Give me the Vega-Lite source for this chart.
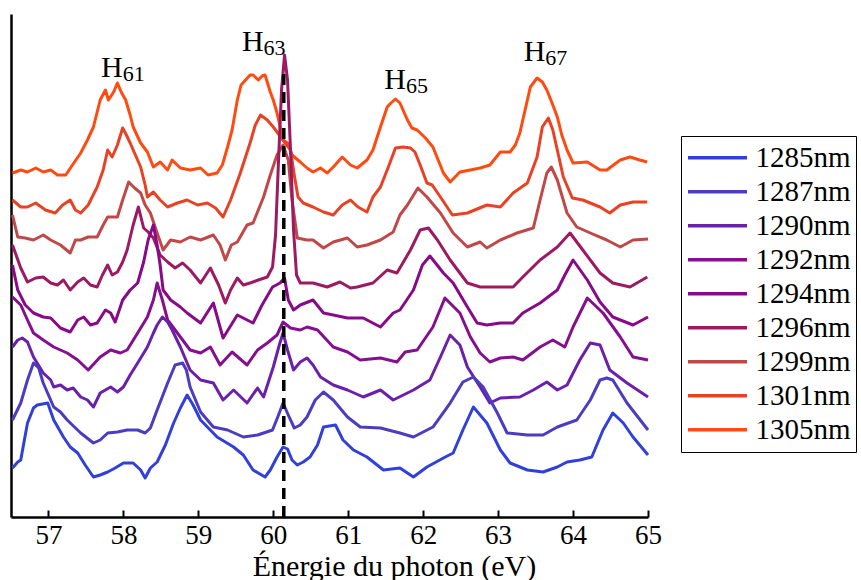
{
  "$schema": "https://vega.github.io/schema/vega-lite/v6.json",
  "width": 637,
  "height": 503,
  "autosize": {"type": "none"},
  "padding": {"left": 11, "top": 14, "right": 213, "bottom": 63},
  "background": "white",
  "config": {
    "view": {"stroke": null},
    "font": "Liberation Serif"
  },
  "layer": [
    {
      "data": {"values": [
{"w":"1305nm","E":56.52,"I":344},{"w":"1305nm","E":56.63,"I":347},{"w":"1305nm","E":56.72,"I":345},{"w":"1305nm","E":56.83,"I":349},{"w":"1305nm","E":56.93,"I":345},{"w":"1305nm","E":57.03,"I":347},{"w":"1305nm","E":57.12,"I":342},{"w":"1305nm","E":57.23,"I":342},{"w":"1305nm","E":57.32,"I":352},{"w":"1305nm","E":57.43,"I":364},{"w":"1305nm","E":57.52,"I":377},{"w":"1305nm","E":57.60,"I":390},{"w":"1305nm","E":57.69,"I":417},{"w":"1305nm","E":57.76,"I":427},{"w":"1305nm","E":57.80,"I":417},{"w":"1305nm","E":57.87,"I":425},{"w":"1305nm","E":57.92,"I":434},{"w":"1305nm","E":57.97,"I":425},{"w":"1305nm","E":58.03,"I":417},{"w":"1305nm","E":58.09,"I":402},{"w":"1305nm","E":58.13,"I":390},{"w":"1305nm","E":58.23,"I":374},{"w":"1305nm","E":58.32,"I":365},{"w":"1305nm","E":58.40,"I":350},{"w":"1305nm","E":58.49,"I":355},{"w":"1305nm","E":58.59,"I":347},{"w":"1305nm","E":58.65,"I":357},{"w":"1305nm","E":58.76,"I":349},{"w":"1305nm","E":58.89,"I":347},{"w":"1305nm","E":59.03,"I":349},{"w":"1305nm","E":59.13,"I":342},{"w":"1305nm","E":59.25,"I":344},{"w":"1305nm","E":59.32,"I":352},{"w":"1305nm","E":59.39,"I":370},{"w":"1305nm","E":59.45,"I":387},{"w":"1305nm","E":59.52,"I":417},{"w":"1305nm","E":59.57,"I":432},{"w":"1305nm","E":59.63,"I":437},{"w":"1305nm","E":59.69,"I":442},{"w":"1305nm","E":59.73,"I":442},{"w":"1305nm","E":59.80,"I":437},{"w":"1305nm","E":59.85,"I":441},{"w":"1305nm","E":59.89,"I":442},{"w":"1305nm","E":59.96,"I":425},{"w":"1305nm","E":60.00,"I":417},{"w":"1305nm","E":60.05,"I":404},{"w":"1305nm","E":60.13,"I":377},{"w":"1305nm","E":60.19,"I":374},{"w":"1305nm","E":60.25,"I":362},{"w":"1305nm","E":60.36,"I":355},{"w":"1305nm","E":60.45,"I":349},{"w":"1305nm","E":60.53,"I":345},{"w":"1305nm","E":60.63,"I":349},{"w":"1305nm","E":60.72,"I":344},{"w":"1305nm","E":60.80,"I":350},{"w":"1305nm","E":60.92,"I":360},{"w":"1305nm","E":61.03,"I":352},{"w":"1305nm","E":61.12,"I":349},{"w":"1305nm","E":61.25,"I":357},{"w":"1305nm","E":61.33,"I":367},{"w":"1305nm","E":61.43,"I":390},{"w":"1305nm","E":61.52,"I":410},{"w":"1305nm","E":61.57,"I":414},{"w":"1305nm","E":61.63,"I":418},{"w":"1305nm","E":61.69,"I":414},{"w":"1305nm","E":61.79,"I":397},{"w":"1305nm","E":61.85,"I":389},{"w":"1305nm","E":61.92,"I":387},{"w":"1305nm","E":62.03,"I":379},{"w":"1305nm","E":62.13,"I":370},{"w":"1305nm","E":62.20,"I":357},{"w":"1305nm","E":62.27,"I":344},{"w":"1305nm","E":62.36,"I":335},{"w":"1305nm","E":62.49,"I":345},{"w":"1305nm","E":62.63,"I":347},{"w":"1305nm","E":62.76,"I":349},{"w":"1305nm","E":62.89,"I":352},{"w":"1305nm","E":63.03,"I":365},{"w":"1305nm","E":63.16,"I":365},{"w":"1305nm","E":63.23,"I":372},{"w":"1305nm","E":63.29,"I":384},{"w":"1305nm","E":63.36,"I":407},{"w":"1305nm","E":63.43,"I":430},{"w":"1305nm","E":63.52,"I":439},{"w":"1305nm","E":63.59,"I":435},{"w":"1305nm","E":63.65,"I":427},{"w":"1305nm","E":63.72,"I":414},{"w":"1305nm","E":63.79,"I":400},{"w":"1305nm","E":63.85,"I":382},{"w":"1305nm","E":63.92,"I":367},{"w":"1305nm","E":64.00,"I":354},{"w":"1305nm","E":64.19,"I":355},{"w":"1305nm","E":64.36,"I":347},{"w":"1305nm","E":64.45,"I":347},{"w":"1305nm","E":64.63,"I":357},{"w":"1305nm","E":64.76,"I":360},{"w":"1305nm","E":64.89,"I":357},{"w":"1305nm","E":64.99,"I":355},
{"w":"1301nm","E":56.52,"I":317},{"w":"1301nm","E":56.63,"I":310},{"w":"1301nm","E":56.72,"I":310},{"w":"1301nm","E":56.83,"I":314},{"w":"1301nm","E":56.96,"I":307},{"w":"1301nm","E":57.09,"I":304},{"w":"1301nm","E":57.19,"I":312},{"w":"1301nm","E":57.29,"I":317},{"w":"1301nm","E":57.36,"I":307},{"w":"1301nm","E":57.43,"I":304},{"w":"1301nm","E":57.53,"I":312},{"w":"1301nm","E":57.65,"I":330},{"w":"1301nm","E":57.73,"I":347},{"w":"1301nm","E":57.79,"I":367},{"w":"1301nm","E":57.85,"I":360},{"w":"1301nm","E":57.92,"I":372},{"w":"1301nm","E":57.99,"I":389},{"w":"1301nm","E":58.04,"I":382},{"w":"1301nm","E":58.09,"I":374},{"w":"1301nm","E":58.16,"I":362},{"w":"1301nm","E":58.23,"I":350},{"w":"1301nm","E":58.29,"I":332},{"w":"1301nm","E":58.32,"I":320},{"w":"1301nm","E":58.40,"I":325},{"w":"1301nm","E":58.49,"I":317},{"w":"1301nm","E":58.59,"I":310},{"w":"1301nm","E":58.72,"I":314},{"w":"1301nm","E":58.85,"I":317},{"w":"1301nm","E":58.99,"I":312},{"w":"1301nm","E":59.12,"I":314},{"w":"1301nm","E":59.23,"I":309},{"w":"1301nm","E":59.33,"I":300},{"w":"1301nm","E":59.43,"I":317},{"w":"1301nm","E":59.56,"I":344},{"w":"1301nm","E":59.69,"I":374},{"w":"1301nm","E":59.76,"I":392},{"w":"1301nm","E":59.83,"I":402},{"w":"1301nm","E":59.92,"I":397},{"w":"1301nm","E":60.00,"I":390},{"w":"1301nm","E":60.13,"I":377},{"w":"1301nm","E":60.23,"I":367},{"w":"1301nm","E":60.28,"I":342},{"w":"1301nm","E":60.33,"I":320},{"w":"1301nm","E":60.40,"I":314},{"w":"1301nm","E":60.53,"I":310},{"w":"1301nm","E":60.67,"I":305},{"w":"1301nm","E":60.80,"I":302},{"w":"1301nm","E":60.92,"I":312},{"w":"1301nm","E":61.03,"I":317},{"w":"1301nm","E":61.13,"I":310},{"w":"1301nm","E":61.25,"I":305},{"w":"1301nm","E":61.33,"I":320},{"w":"1301nm","E":61.43,"I":330},{"w":"1301nm","E":61.53,"I":349},{"w":"1301nm","E":61.63,"I":369},{"w":"1301nm","E":61.73,"I":370},{"w":"1301nm","E":61.83,"I":369},{"w":"1301nm","E":61.89,"I":365},{"w":"1301nm","E":61.96,"I":352},{"w":"1301nm","E":62.05,"I":334},{"w":"1301nm","E":62.12,"I":332},{"w":"1301nm","E":62.23,"I":320},{"w":"1301nm","E":62.39,"I":302},{"w":"1301nm","E":62.59,"I":304},{"w":"1301nm","E":62.85,"I":312},{"w":"1301nm","E":63.03,"I":310},{"w":"1301nm","E":63.20,"I":324},{"w":"1301nm","E":63.39,"I":334},{"w":"1301nm","E":63.52,"I":360},{"w":"1301nm","E":63.59,"I":390},{"w":"1301nm","E":63.67,"I":399},{"w":"1301nm","E":63.73,"I":387},{"w":"1301nm","E":63.87,"I":340},{"w":"1301nm","E":63.99,"I":319},{"w":"1301nm","E":64.13,"I":317},{"w":"1301nm","E":64.36,"I":310},{"w":"1301nm","E":64.49,"I":304},{"w":"1301nm","E":64.63,"I":312},{"w":"1301nm","E":64.80,"I":315},{"w":"1301nm","E":64.99,"I":315},
{"w":"1299nm","E":56.52,"I":302},{"w":"1299nm","E":56.59,"I":280},{"w":"1299nm","E":56.69,"I":279},{"w":"1299nm","E":56.80,"I":277},{"w":"1299nm","E":56.93,"I":282},{"w":"1299nm","E":57.03,"I":277},{"w":"1299nm","E":57.16,"I":272},{"w":"1299nm","E":57.29,"I":264},{"w":"1299nm","E":57.36,"I":277},{"w":"1299nm","E":57.43,"I":277},{"w":"1299nm","E":57.53,"I":280},{"w":"1299nm","E":57.65,"I":280},{"w":"1299nm","E":57.73,"I":292},{"w":"1299nm","E":57.79,"I":300},{"w":"1299nm","E":57.92,"I":300},{"w":"1299nm","E":57.99,"I":317},{"w":"1299nm","E":58.07,"I":335},{"w":"1299nm","E":58.15,"I":329},{"w":"1299nm","E":58.23,"I":324},{"w":"1299nm","E":58.29,"I":312},{"w":"1299nm","E":58.36,"I":304},{"w":"1299nm","E":58.45,"I":284},{"w":"1299nm","E":58.53,"I":267},{"w":"1299nm","E":58.63,"I":277},{"w":"1299nm","E":58.76,"I":275},{"w":"1299nm","E":58.89,"I":280},{"w":"1299nm","E":59.03,"I":277},{"w":"1299nm","E":59.20,"I":282},{"w":"1299nm","E":59.29,"I":272},{"w":"1299nm","E":59.36,"I":257},{"w":"1299nm","E":59.44,"I":272},{"w":"1299nm","E":59.52,"I":275},{"w":"1299nm","E":59.65,"I":292},{"w":"1299nm","E":59.73,"I":294},{"w":"1299nm","E":59.87,"I":320},{"w":"1299nm","E":59.96,"I":342},{"w":"1299nm","E":60.05,"I":362},{"w":"1299nm","E":60.13,"I":372},{"w":"1299nm","E":60.20,"I":357},{"w":"1299nm","E":60.25,"I":317},{"w":"1299nm","E":60.32,"I":279},{"w":"1299nm","E":60.45,"I":277},{"w":"1299nm","E":60.53,"I":277},{"w":"1299nm","E":60.67,"I":269},{"w":"1299nm","E":60.80,"I":275},{"w":"1299nm","E":60.99,"I":279},{"w":"1299nm","E":61.12,"I":270},{"w":"1299nm","E":61.25,"I":272},{"w":"1299nm","E":61.43,"I":277},{"w":"1299nm","E":61.60,"I":285},{"w":"1299nm","E":61.69,"I":302},{"w":"1299nm","E":61.79,"I":312},{"w":"1299nm","E":61.93,"I":329},{"w":"1299nm","E":62.05,"I":320},{"w":"1299nm","E":62.23,"I":304},{"w":"1299nm","E":62.40,"I":284},{"w":"1299nm","E":62.59,"I":270},{"w":"1299nm","E":62.76,"I":275},{"w":"1299nm","E":62.85,"I":269},{"w":"1299nm","E":63.03,"I":277},{"w":"1299nm","E":63.25,"I":284},{"w":"1299nm","E":63.47,"I":289},{"w":"1299nm","E":63.56,"I":317},{"w":"1299nm","E":63.65,"I":344},{"w":"1299nm","E":63.71,"I":350},{"w":"1299nm","E":63.79,"I":337},{"w":"1299nm","E":63.92,"I":304},{"w":"1299nm","E":64.05,"I":290},{"w":"1299nm","E":64.23,"I":284},{"w":"1299nm","E":64.45,"I":277},{"w":"1299nm","E":64.63,"I":270},{"w":"1299nm","E":64.80,"I":277},{"w":"1299nm","E":65.00,"I":278},
{"w":"1296nm","E":56.52,"I":272},{"w":"1296nm","E":56.63,"I":249},{"w":"1296nm","E":56.72,"I":235},{"w":"1296nm","E":56.83,"I":239},{"w":"1296nm","E":56.93,"I":240},{"w":"1296nm","E":57.03,"I":234},{"w":"1296nm","E":57.12,"I":232},{"w":"1296nm","E":57.20,"I":237},{"w":"1296nm","E":57.29,"I":227},{"w":"1296nm","E":57.39,"I":235},{"w":"1296nm","E":57.47,"I":239},{"w":"1296nm","E":57.56,"I":232},{"w":"1296nm","E":57.65,"I":230},{"w":"1296nm","E":57.72,"I":242},{"w":"1296nm","E":57.79,"I":252},{"w":"1296nm","E":57.85,"I":242},{"w":"1296nm","E":57.92,"I":245},{"w":"1296nm","E":57.99,"I":255},{"w":"1296nm","E":58.05,"I":267},{"w":"1296nm","E":58.13,"I":292},{"w":"1296nm","E":58.20,"I":310},{"w":"1296nm","E":58.27,"I":289},{"w":"1296nm","E":58.33,"I":285},{"w":"1296nm","E":58.40,"I":279},{"w":"1296nm","E":58.49,"I":262},{"w":"1296nm","E":58.59,"I":255},{"w":"1296nm","E":58.69,"I":249},{"w":"1296nm","E":58.79,"I":254},{"w":"1296nm","E":58.89,"I":247},{"w":"1296nm","E":59.03,"I":234},{"w":"1296nm","E":59.16,"I":249},{"w":"1296nm","E":59.27,"I":232},{"w":"1296nm","E":59.36,"I":214},{"w":"1296nm","E":59.43,"I":227},{"w":"1296nm","E":59.52,"I":239},{"w":"1296nm","E":59.60,"I":232},{"w":"1296nm","E":59.69,"I":234},{"w":"1296nm","E":59.80,"I":237},{"w":"1296nm","E":59.92,"I":240},{"w":"1296nm","E":59.99,"I":250},{"w":"1296nm","E":60.03,"I":282},{"w":"1296nm","E":60.07,"I":357},{"w":"1296nm","E":60.11,"I":427},{"w":"1296nm","E":60.15,"I":462},{"w":"1296nm","E":60.19,"I":437},{"w":"1296nm","E":60.23,"I":367},{"w":"1296nm","E":60.27,"I":287},{"w":"1296nm","E":60.31,"I":242},{"w":"1296nm","E":60.36,"I":234},{"w":"1296nm","E":60.53,"I":234},{"w":"1296nm","E":60.72,"I":230},{"w":"1296nm","E":60.89,"I":235},{"w":"1296nm","E":61.03,"I":229},{"w":"1296nm","E":61.12,"I":230},{"w":"1296nm","E":61.33,"I":234},{"w":"1296nm","E":61.52,"I":247},{"w":"1296nm","E":61.65,"I":244},{"w":"1296nm","E":61.83,"I":267},{"w":"1296nm","E":61.96,"I":287},{"w":"1296nm","E":62.07,"I":289},{"w":"1296nm","E":62.19,"I":277},{"w":"1296nm","E":62.36,"I":257},{"w":"1296nm","E":62.59,"I":234},{"w":"1296nm","E":62.76,"I":230},{"w":"1296nm","E":62.99,"I":230},{"w":"1296nm","E":63.20,"I":230},{"w":"1296nm","E":63.33,"I":240},{"w":"1296nm","E":63.56,"I":257},{"w":"1296nm","E":63.79,"I":270},{"w":"1296nm","E":63.96,"I":284},{"w":"1296nm","E":64.13,"I":267},{"w":"1296nm","E":64.36,"I":244},{"w":"1296nm","E":64.53,"I":234},{"w":"1296nm","E":64.76,"I":230},{"w":"1296nm","E":64.99,"I":240},
{"w":"1294nm","E":56.52,"I":252},{"w":"1294nm","E":56.59,"I":227},{"w":"1294nm","E":56.69,"I":212},{"w":"1294nm","E":56.80,"I":204},{"w":"1294nm","E":56.93,"I":200},{"w":"1294nm","E":57.03,"I":199},{"w":"1294nm","E":57.16,"I":189},{"w":"1294nm","E":57.29,"I":185},{"w":"1294nm","E":57.39,"I":197},{"w":"1294nm","E":57.47,"I":200},{"w":"1294nm","E":57.56,"I":192},{"w":"1294nm","E":57.65,"I":194},{"w":"1294nm","E":57.76,"I":207},{"w":"1294nm","E":57.83,"I":204},{"w":"1294nm","E":57.89,"I":195},{"w":"1294nm","E":57.99,"I":217},{"w":"1294nm","E":58.09,"I":227},{"w":"1294nm","E":58.19,"I":234},{"w":"1294nm","E":58.27,"I":255},{"w":"1294nm","E":58.33,"I":277},{"w":"1294nm","E":58.40,"I":292},{"w":"1294nm","E":58.45,"I":272},{"w":"1294nm","E":58.49,"I":252},{"w":"1294nm","E":58.53,"I":227},{"w":"1294nm","E":58.63,"I":217},{"w":"1294nm","E":58.76,"I":210},{"w":"1294nm","E":58.85,"I":204},{"w":"1294nm","E":59.03,"I":194},{"w":"1294nm","E":59.20,"I":214},{"w":"1294nm","E":59.33,"I":179},{"w":"1294nm","E":59.52,"I":202},{"w":"1294nm","E":59.73,"I":194},{"w":"1294nm","E":59.85,"I":212},{"w":"1294nm","E":59.99,"I":230},{"w":"1294nm","E":60.09,"I":234},{"w":"1294nm","E":60.15,"I":239},{"w":"1294nm","E":60.20,"I":217},{"w":"1294nm","E":60.27,"I":207},{"w":"1294nm","E":60.36,"I":212},{"w":"1294nm","E":60.53,"I":217},{"w":"1294nm","E":60.67,"I":204},{"w":"1294nm","E":60.80,"I":202},{"w":"1294nm","E":60.99,"I":199},{"w":"1294nm","E":61.20,"I":199},{"w":"1294nm","E":61.43,"I":190},{"w":"1294nm","E":61.60,"I":204},{"w":"1294nm","E":61.69,"I":207},{"w":"1294nm","E":61.87,"I":227},{"w":"1294nm","E":61.99,"I":252},{"w":"1294nm","E":62.09,"I":261},{"w":"1294nm","E":62.27,"I":244},{"w":"1294nm","E":62.40,"I":234},{"w":"1294nm","E":62.59,"I":210},{"w":"1294nm","E":62.72,"I":194},{"w":"1294nm","E":62.85,"I":192},{"w":"1294nm","E":63.03,"I":194},{"w":"1294nm","E":63.20,"I":194},{"w":"1294nm","E":63.33,"I":204},{"w":"1294nm","E":63.56,"I":214},{"w":"1294nm","E":63.79,"I":227},{"w":"1294nm","E":63.89,"I":242},{"w":"1294nm","E":64.00,"I":257},{"w":"1294nm","E":64.19,"I":237},{"w":"1294nm","E":64.36,"I":215},{"w":"1294nm","E":64.53,"I":200},{"w":"1294nm","E":64.80,"I":192},{"w":"1294nm","E":65.00,"I":200},
{"w":"1292nm","E":56.52,"I":220},{"w":"1292nm","E":56.63,"I":212},{"w":"1292nm","E":56.72,"I":197},{"w":"1292nm","E":56.80,"I":184},{"w":"1292nm","E":56.93,"I":177},{"w":"1292nm","E":57.07,"I":170},{"w":"1292nm","E":57.16,"I":167},{"w":"1292nm","E":57.25,"I":164},{"w":"1292nm","E":57.39,"I":157},{"w":"1292nm","E":57.53,"I":147},{"w":"1292nm","E":57.69,"I":160},{"w":"1292nm","E":57.83,"I":167},{"w":"1292nm","E":57.96,"I":164},{"w":"1292nm","E":58.05,"I":167},{"w":"1292nm","E":58.19,"I":184},{"w":"1292nm","E":58.32,"I":200},{"w":"1292nm","E":58.40,"I":217},{"w":"1292nm","E":58.45,"I":234},{"w":"1292nm","E":58.52,"I":217},{"w":"1292nm","E":58.59,"I":197},{"w":"1292nm","E":58.72,"I":184},{"w":"1292nm","E":58.89,"I":167},{"w":"1292nm","E":59.03,"I":164},{"w":"1292nm","E":59.16,"I":170},{"w":"1292nm","E":59.29,"I":152},{"w":"1292nm","E":59.45,"I":165},{"w":"1292nm","E":59.65,"I":152},{"w":"1292nm","E":59.79,"I":167},{"w":"1292nm","E":59.92,"I":174},{"w":"1292nm","E":60.05,"I":182},{"w":"1292nm","E":60.13,"I":195},{"w":"1292nm","E":60.23,"I":189},{"w":"1292nm","E":60.36,"I":187},{"w":"1292nm","E":60.45,"I":190},{"w":"1292nm","E":60.59,"I":187},{"w":"1292nm","E":60.80,"I":170},{"w":"1292nm","E":60.99,"I":165},{"w":"1292nm","E":61.16,"I":157},{"w":"1292nm","E":61.43,"I":159},{"w":"1292nm","E":61.65,"I":155},{"w":"1292nm","E":61.76,"I":165},{"w":"1292nm","E":61.92,"I":167},{"w":"1292nm","E":62.13,"I":190},{"w":"1292nm","E":62.29,"I":219},{"w":"1292nm","E":62.49,"I":204},{"w":"1292nm","E":62.63,"I":180},{"w":"1292nm","E":62.76,"I":164},{"w":"1292nm","E":62.89,"I":155},{"w":"1292nm","E":63.03,"I":159},{"w":"1292nm","E":63.20,"I":160},{"w":"1292nm","E":63.33,"I":157},{"w":"1292nm","E":63.56,"I":170},{"w":"1292nm","E":63.73,"I":177},{"w":"1292nm","E":63.89,"I":170},{"w":"1292nm","E":64.00,"I":190},{"w":"1292nm","E":64.19,"I":219},{"w":"1292nm","E":64.40,"I":204},{"w":"1292nm","E":64.63,"I":180},{"w":"1292nm","E":64.80,"I":160},{"w":"1292nm","E":65.00,"I":157},
{"w":"1290nm","E":56.52,"I":170},{"w":"1290nm","E":56.59,"I":177},{"w":"1290nm","E":56.65,"I":179},{"w":"1290nm","E":56.72,"I":175},{"w":"1290nm","E":56.80,"I":160},{"w":"1290nm","E":56.93,"I":144},{"w":"1290nm","E":57.03,"I":137},{"w":"1290nm","E":57.07,"I":130},{"w":"1290nm","E":57.16,"I":132},{"w":"1290nm","E":57.25,"I":127},{"w":"1290nm","E":57.33,"I":129},{"w":"1290nm","E":57.43,"I":120},{"w":"1290nm","E":57.52,"I":117},{"w":"1290nm","E":57.60,"I":110},{"w":"1290nm","E":57.69,"I":124},{"w":"1290nm","E":57.83,"I":130},{"w":"1290nm","E":57.92,"I":125},{"w":"1290nm","E":58.00,"I":130},{"w":"1290nm","E":58.09,"I":142},{"w":"1290nm","E":58.19,"I":154},{"w":"1290nm","E":58.32,"I":170},{"w":"1290nm","E":58.40,"I":184},{"w":"1290nm","E":58.45,"I":192},{"w":"1290nm","E":58.52,"I":200},{"w":"1290nm","E":58.59,"I":195},{"w":"1290nm","E":58.65,"I":187},{"w":"1290nm","E":58.76,"I":170},{"w":"1290nm","E":58.89,"I":147},{"w":"1290nm","E":59.03,"I":137},{"w":"1290nm","E":59.20,"I":134},{"w":"1290nm","E":59.33,"I":117},{"w":"1290nm","E":59.47,"I":127},{"w":"1290nm","E":59.65,"I":114},{"w":"1290nm","E":59.79,"I":129},{"w":"1290nm","E":59.87,"I":120},{"w":"1290nm","E":60.00,"I":150},{"w":"1290nm","E":60.08,"I":172},{"w":"1290nm","E":60.13,"I":184},{"w":"1290nm","E":60.19,"I":167},{"w":"1290nm","E":60.27,"I":147},{"w":"1290nm","E":60.36,"I":155},{"w":"1290nm","E":60.45,"I":159},{"w":"1290nm","E":60.53,"I":152},{"w":"1290nm","E":60.63,"I":140},{"w":"1290nm","E":60.80,"I":132},{"w":"1290nm","E":60.99,"I":127},{"w":"1290nm","E":61.20,"I":120},{"w":"1290nm","E":61.43,"I":127},{"w":"1290nm","E":61.60,"I":117},{"w":"1290nm","E":61.87,"I":127},{"w":"1290nm","E":62.09,"I":137},{"w":"1290nm","E":62.23,"I":160},{"w":"1290nm","E":62.36,"I":182},{"w":"1290nm","E":62.49,"I":172},{"w":"1290nm","E":62.59,"I":150},{"w":"1290nm","E":62.76,"I":130},{"w":"1290nm","E":62.89,"I":114},{"w":"1290nm","E":63.03,"I":119},{"w":"1290nm","E":63.29,"I":120},{"w":"1290nm","E":63.47,"I":127},{"w":"1290nm","E":63.65,"I":135},{"w":"1290nm","E":63.79,"I":127},{"w":"1290nm","E":63.92,"I":132},{"w":"1290nm","E":64.09,"I":157},{"w":"1290nm","E":64.23,"I":174},{"w":"1290nm","E":64.36,"I":172},{"w":"1290nm","E":64.49,"I":147},{"w":"1290nm","E":64.72,"I":134},{"w":"1290nm","E":65.00,"I":120},
{"w":"1287nm","E":56.52,"I":97},{"w":"1287nm","E":56.63,"I":114},{"w":"1287nm","E":56.72,"I":137},{"w":"1287nm","E":56.80,"I":154},{"w":"1287nm","E":56.87,"I":149},{"w":"1287nm","E":56.93,"I":134},{"w":"1287nm","E":57.07,"I":110},{"w":"1287nm","E":57.16,"I":105},{"w":"1287nm","E":57.25,"I":97},{"w":"1287nm","E":57.43,"I":84},{"w":"1287nm","E":57.60,"I":74},{"w":"1287nm","E":57.69,"I":77},{"w":"1287nm","E":57.79,"I":84},{"w":"1287nm","E":57.92,"I":85},{"w":"1287nm","E":58.05,"I":87},{"w":"1287nm","E":58.19,"I":87},{"w":"1287nm","E":58.29,"I":84},{"w":"1287nm","E":58.36,"I":89},{"w":"1287nm","E":58.45,"I":107},{"w":"1287nm","E":58.59,"I":134},{"w":"1287nm","E":58.69,"I":152},{"w":"1287nm","E":58.79,"I":154},{"w":"1287nm","E":58.84,"I":147},{"w":"1287nm","E":58.89,"I":130},{"w":"1287nm","E":58.99,"I":112},{"w":"1287nm","E":59.03,"I":105},{"w":"1287nm","E":59.20,"I":90},{"w":"1287nm","E":59.39,"I":87},{"w":"1287nm","E":59.60,"I":80},{"w":"1287nm","E":59.79,"I":82},{"w":"1287nm","E":59.99,"I":87},{"w":"1287nm","E":60.07,"I":102},{"w":"1287nm","E":60.13,"I":114},{"w":"1287nm","E":60.20,"I":102},{"w":"1287nm","E":60.28,"I":89},{"w":"1287nm","E":60.36,"I":92},{"w":"1287nm","E":60.45,"I":100},{"w":"1287nm","E":60.56,"I":117},{"w":"1287nm","E":60.67,"I":125},{"w":"1287nm","E":60.80,"I":117},{"w":"1287nm","E":60.99,"I":100},{"w":"1287nm","E":61.16,"I":90},{"w":"1287nm","E":61.43,"I":89},{"w":"1287nm","E":61.69,"I":84},{"w":"1287nm","E":61.87,"I":80},{"w":"1287nm","E":62.13,"I":90},{"w":"1287nm","E":62.36,"I":114},{"w":"1287nm","E":62.53,"I":135},{"w":"1287nm","E":62.67,"I":140},{"w":"1287nm","E":62.80,"I":130},{"w":"1287nm","E":62.99,"I":104},{"w":"1287nm","E":63.12,"I":84},{"w":"1287nm","E":63.39,"I":82},{"w":"1287nm","E":63.60,"I":82},{"w":"1287nm","E":63.79,"I":90},{"w":"1287nm","E":64.05,"I":97},{"w":"1287nm","E":64.23,"I":117},{"w":"1287nm","E":64.36,"I":137},{"w":"1287nm","E":64.45,"I":139},{"w":"1287nm","E":64.53,"I":137},{"w":"1287nm","E":64.72,"I":114},{"w":"1287nm","E":65.00,"I":87},
{"w":"1285nm","E":56.52,"I":49},{"w":"1285nm","E":56.59,"I":55},{"w":"1285nm","E":56.63,"I":57},{"w":"1285nm","E":56.72,"I":94},{"w":"1285nm","E":56.80,"I":109},{"w":"1285nm","E":56.85,"I":112},{"w":"1285nm","E":56.99,"I":114},{"w":"1285nm","E":57.07,"I":97},{"w":"1285nm","E":57.20,"I":80},{"w":"1285nm","E":57.29,"I":70},{"w":"1285nm","E":57.39,"I":64},{"w":"1285nm","E":57.49,"I":52},{"w":"1285nm","E":57.60,"I":40},{"w":"1285nm","E":57.69,"I":42},{"w":"1285nm","E":57.79,"I":45},{"w":"1285nm","E":57.89,"I":49},{"w":"1285nm","E":58.00,"I":54},{"w":"1285nm","E":58.13,"I":54},{"w":"1285nm","E":58.23,"I":47},{"w":"1285nm","E":58.29,"I":39},{"w":"1285nm","E":58.36,"I":49},{"w":"1285nm","E":58.45,"I":55},{"w":"1285nm","E":58.56,"I":72},{"w":"1285nm","E":58.67,"I":94},{"w":"1285nm","E":58.76,"I":109},{"w":"1285nm","E":58.85,"I":122},{"w":"1285nm","E":58.93,"I":112},{"w":"1285nm","E":59.03,"I":97},{"w":"1285nm","E":59.25,"I":80},{"w":"1285nm","E":59.47,"I":70},{"w":"1285nm","E":59.60,"I":62},{"w":"1285nm","E":59.73,"I":47},{"w":"1285nm","E":59.89,"I":40},{"w":"1285nm","E":59.96,"I":47},{"w":"1285nm","E":60.05,"I":60},{"w":"1285nm","E":60.13,"I":70},{"w":"1285nm","E":60.19,"I":68},{"w":"1285nm","E":60.25,"I":57},{"w":"1285nm","E":60.32,"I":52},{"w":"1285nm","E":60.40,"I":55},{"w":"1285nm","E":60.49,"I":60},{"w":"1285nm","E":60.59,"I":72},{"w":"1285nm","E":60.67,"I":90},{"w":"1285nm","E":60.83,"I":92},{"w":"1285nm","E":60.93,"I":77},{"w":"1285nm","E":61.07,"I":67},{"w":"1285nm","E":61.25,"I":60},{"w":"1285nm","E":61.47,"I":47},{"w":"1285nm","E":61.69,"I":49},{"w":"1285nm","E":61.87,"I":40},{"w":"1285nm","E":62.05,"I":50},{"w":"1285nm","E":62.27,"I":59},{"w":"1285nm","E":62.40,"I":64},{"w":"1285nm","E":62.53,"I":87},{"w":"1285nm","E":62.67,"I":110},{"w":"1285nm","E":62.85,"I":94},{"w":"1285nm","E":63.03,"I":67},{"w":"1285nm","E":63.16,"I":54},{"w":"1285nm","E":63.39,"I":47},{"w":"1285nm","E":63.60,"I":45},{"w":"1285nm","E":63.79,"I":50},{"w":"1285nm","E":63.92,"I":55},{"w":"1285nm","E":64.09,"I":57},{"w":"1285nm","E":64.25,"I":60},{"w":"1285nm","E":64.40,"I":87},{"w":"1285nm","E":64.53,"I":104},{"w":"1285nm","E":64.67,"I":94},{"w":"1285nm","E":64.80,"I":80},{"w":"1285nm","E":65.00,"I":62}
      ]},
      "mark": {"type": "line", "strokeWidth": 3, "strokeJoin": "round"},
      "encoding": {
        "x": {
          "field": "E", "type": "quantitative",
          "scale": {"domain": [56.5, 65], "nice": false, "zero": false},
          "axis": {
            "title": "Énergie du photon (eV)",
            "values": [57, 58, 59, 60, 61, 62, 63, 64, 65],
            "format": "d",
            "grid": false,
            "domainColor": "black", "domainWidth": 2.5,
            "tickColor": "black", "tickWidth": 2, "tickSize": -7,
            "labelFont": "Liberation Serif", "labelFontSize": 27, "labelColor": "black",
            "labelPadding": 12, "labelFlush": false, "labelOverlap": false,
            "titleFont": "Liberation Serif", "titleFontSize": 30, "titleFontWeight": "normal",
            "titleColor": "black", "titleBaseline": "alphabetic", "titleAlign": "center",
            "titleX": 383, "titleY": 58
          }
        },
        "y": {
          "field": "I", "type": "quantitative",
          "scale": {"domain": [0, 503], "nice": false},
          "axis": {"title": null, "labels": false, "ticks": false, "grid": false, "domainColor": "black", "domainWidth": 2.5}
        },
        "color": {
          "field": "w", "type": "nominal",
          "scale": {
            "domain": ["1285nm", "1287nm", "1290nm", "1292nm", "1294nm", "1296nm", "1299nm", "1301nm", "1305nm"],
            "range": ["#3040d8", "#4b3cc0", "#6a20a8", "#84108f", "#880a88", "#9c1a62", "#c04848", "#e84225", "#ff4b12"]
          },
          "legend": {
            "title": null,
            "orient": "none", "legendX": 670, "legendY": 122,
            "symbolType": "stroke", "symbolSize": 3481, "symbolStrokeWidth": 3.5,
            "labelFont": "Liberation Serif", "labelFontSize": 29, "labelColor": "black",
            "labelOffset": 6.5, "labelLimit": 300,
            "padding": 5, "strokeColor": "black", "fillColor": "white",
            "rowPadding": 0, "clipHeight": 33.6
          }
        }
      }
    },
    {
      "data": {"values": [{"E": 60.14, "I1": 0, "I2": 450}]},
      "mark": {"type": "rule", "color": "black", "strokeWidth": 3.5, "strokeDash": [11, 7]},
      "encoding": {
        "x": {"field": "E", "type": "quantitative"},
        "y": {"field": "I1", "type": "quantitative"},
        "y2": {"field": "I2"}
      }
    },
    {
      "data": {"values": [
        {"E": 57.99, "I": 440, "s": "61"},
        {"E": 59.87, "I": 466, "s": "63"},
        {"E": 61.77, "I": 428, "s": "65"},
        {"E": 63.63, "I": 456, "s": "67"}
      ]},
      "layer": [
        {
          "mark": {"type": "text", "text": "H", "align": "right", "baseline": "alphabetic", "font": "Liberation Serif", "fontSize": 30, "color": "black"},
          "encoding": {
            "x": {"field": "E", "type": "quantitative"},
            "y": {"field": "I", "type": "quantitative"}
          }
        },
        {
          "mark": {"type": "text", "align": "left", "baseline": "alphabetic", "dy": 4, "font": "Liberation Serif", "fontSize": 22, "color": "black"},
          "encoding": {
            "x": {"field": "E", "type": "quantitative"},
            "y": {"field": "I", "type": "quantitative"},
            "text": {"field": "s"}
          }
        }
      ]
    }
  ]
}
